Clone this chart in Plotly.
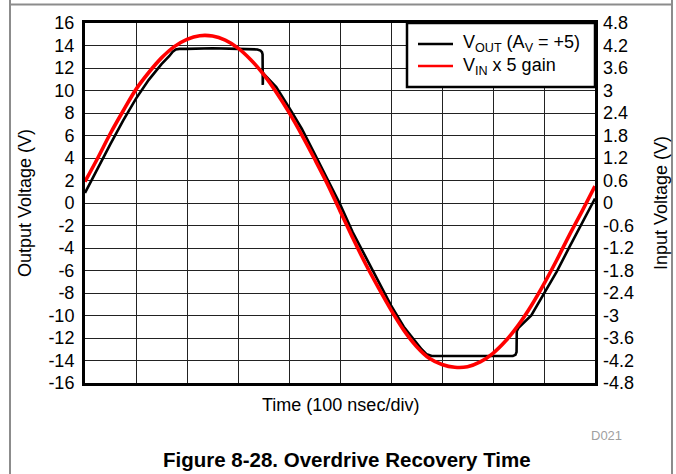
import plotly.graph_objects as go

# Time axis in divisions (100 nsec/div)
vin_x = [i * 0.25 for i in range(41)]
vin_x5 = [1.9, 4.0, 6.2, 8.2, 10.1, 11.6, 12.9, 13.9, 14.55, 14.87,
          14.84, 14.47, 13.77, 12.74, 11.43, 9.85, 8.05, 6.06, 3.93, 1.72,
          -0.7, -3.1, -5.4, -7.5, -9.5, -11.3, -12.75, -13.8, -14.35, -14.6,
          -14.55, -14.13, -13.36, -12.25, -10.83, -9.13, -7.19, -5.07, -2.83, -0.7,
          1.5]

vout_x = [0, 0.25, 0.5, 0.75, 1.0, 1.25, 1.5, 1.65, 1.72, 1.78, 1.85, 2.0, 2.5, 3.0,
          3.3, 3.38, 3.44, 3.47, 3.482, 3.486, 3.492, 3.5, 3.75, 4.0, 4.25, 4.5, 4.75,
          5.0, 5.25, 5.5, 5.75, 6.0, 6.25, 6.5, 6.6, 6.7, 6.8, 7.0, 7.5, 8.0, 8.3,
          8.39, 8.44, 8.462, 8.466, 8.5, 8.75, 9.0, 9.25, 9.5, 9.75, 10.0]
vout = [0.9, 3.1, 5.25, 7.35, 9.28, 10.95, 12.34, 13.05, 13.45, 13.65, 13.7, 13.7, 13.75, 13.7,
        13.7, 13.65, 13.55, 13.4, 13.2, 10.5, 11.6, 11.5, 10.3, 8.5, 6.6, 4.4, 2.2,
        -0.1, -2.6, -4.8, -7.0, -9.1, -11.0, -12.5, -13.0, -13.45, -13.6, -13.6, -13.6, -13.6, -13.6,
        -13.6, -13.5, -13.25, -11.4, -11.1, -10.0, -8.1, -6.1, -3.9, -1.8, 0.4]

left_ticks = list(range(-16, 17, 2))
left_labels = [str(v) for v in left_ticks]
right_ticks = [-4.8, -4.2, -3.6, -3.0, -2.4, -1.8, -1.2, -0.6, 0, 0.6, 1.2, 1.8, 2.4, 3.0, 3.6, 4.2, 4.8]
right_labels = ["-4.8", "-4.2", "-3.6", "-3", "-2.4", "-1.8", "-1.2", "-0.6", "0",
                "0.6", "1.2", "1.8", "2.4", "3", "3.6", "4.2", "4.8"]

series_names = ["V<sub>OUT</sub> (A<sub>V</sub> = +5)", "V<sub>IN</sub> x 5 gain"]
series_colors = ["black", "#ff0000"]

FONT = "Liberation Sans, Arial, sans-serif"

W, H = 676, 474
PL, PR, PT, PB = 85, 595, 23, 383  # plot area in pixels


def fx(xp):
    return xp / W


def fy(yp):
    return 1 - yp / H


fig = go.Figure()
fig.add_trace(go.Scatter(x=vout_x, y=vout, mode="lines", name=series_names[0],
                         line=dict(color=series_colors[0], width=2.6)))
fig.add_trace(go.Scatter(x=vin_x, y=vin_x5, mode="lines", name=series_names[1],
                         line=dict(color=series_colors[1], width=3.6, shape="spline")))
# invisible trace so the right-hand axis is drawn
fig.add_trace(go.Scatter(x=[0], y=[0], yaxis="y2", mode="lines", showlegend=False,
                         hoverinfo="skip", line=dict(width=0, color="rgba(0,0,0,0)")))

fig.update_layout(
    width=W, height=H,
    margin=dict(l=0, r=0, t=0, b=0, pad=0, autoexpand=False),
    paper_bgcolor="white", plot_bgcolor="white",
    font=dict(family=FONT, size=18, color="black"),
    showlegend=False,
    xaxis=dict(domain=[fx(PL), fx(PR)], range=[0, 10], dtick=1, tick0=0,
               showticklabels=False, ticks="", automargin=False,
               showgrid=True, gridcolor="#222", gridwidth=1, zeroline=False,
               showline=True, linecolor="black", linewidth=3, mirror=True),
    yaxis=dict(domain=[fy(PB), fy(PT)], range=[-16, 16], tickvals=left_ticks,
               ticktext=left_labels, ticks="", automargin=False,
               showgrid=True, gridcolor="#222", gridwidth=1, zeroline=False,
               showline=True, linecolor="black", linewidth=3, mirror=True,
               ticklabelstandoff=4, tickfont=dict(size=18)),
    yaxis2=dict(range=[-4.8, 4.8], overlaying="y", side="right", tickvals=right_ticks,
                ticktext=right_labels, ticks="", showgrid=False, zeroline=False,
                automargin=False, showline=False, ticklabelstandoff=7,
                tickfont=dict(size=18)),
)

annotations = [
    dict(text="Output Voltage (V)", x=fx(25), y=fy(203), textangle=-90,
         xanchor="center", font=dict(size=18)),
    dict(text="Input Voltage (V)", x=fx(661), y=fy(203), textangle=-90,
         xanchor="center", font=dict(size=18)),
    dict(text="Time (100 nsec/div)", x=fx(340), y=fy(405), xanchor="center", font=dict(size=18)),
    dict(text="D021", x=fx(606), y=fy(435), xanchor="center", font=dict(size=13, color="#a0a0a0")),
    dict(text="<b>Figure 8-28. Overdrive Recovery Time</b>", x=fx(347), y=fy(459),
         xanchor="center", font=dict(size=20.5)),
    # legend key text
    dict(text="<br>".join(series_names), x=fx(461), y=fy(55), xanchor="left", align="left",
         font=dict(size=18)),
]
for a in annotations:
    a.update(xref="paper", yref="paper", showarrow=False, yanchor="middle")
fig.update_layout(annotations=annotations)

frame_col = "#8c8c8c"
shapes = [
    dict(type="line", x0=fx(10), x1=fx(10), y0=fy(0), y1=fy(H), line=dict(color=frame_col, width=2)),
    dict(type="line", x0=fx(672), x1=fx(672), y0=fy(0), y1=fy(H), line=dict(color=frame_col, width=2)),
    dict(type="line", x0=fx(10), x1=fx(672), y0=fy(4.5), y1=fy(4.5), line=dict(color=frame_col, width=2)),
    dict(type="rect", x0=fx(407), x1=fx(PR), y0=fy(PT), y1=fy(87), fillcolor="white",
         line=dict(color="black", width=2.5)),
]
for col, yy in zip(series_colors, [44, 66]):
    shapes.append(dict(type="line", x0=fx(418), x1=fx(453), y0=fy(yy), y1=fy(yy),
                       line=dict(color=col, width=2.5)))
for s in shapes:
    s.update(xref="paper", yref="paper", layer="above")
fig.update_layout(shapes=shapes)

fig.write_html("out.html", config={"displayModeBar": False},
               post_script="document.body.style.margin='0';")
